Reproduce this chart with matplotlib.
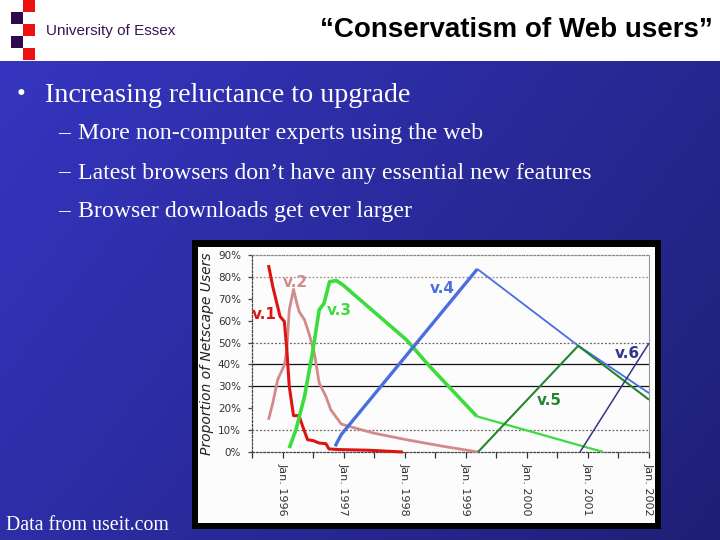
import numpy as np
import matplotlib
matplotlib.use("Agg")
import matplotlib.pyplot as plt
from matplotlib.patches import Rectangle

# ---------------- data ----------------
v1_x = [1995.77, 1995.84, 1995.90, 1995.96, 1996.03, 1996.07, 1996.11, 1996.18, 1996.27,
        1996.33, 1996.41, 1996.50, 1996.60, 1996.71, 1996.76, 1996.93, 1997.42, 1997.97]
v1_y = [85.4, 75.6, 68.7, 61.9, 59.6, 46.7, 30.0, 16.6, 16.6,
        11.7, 5.6, 5.2, 4.1, 3.8, 1.4, 1.1, 0.8, 0.0]

v2_x = [1995.77, 1995.84, 1995.92, 1996.03, 1996.07, 1996.11, 1996.18, 1996.22, 1996.27,
        1996.36, 1996.44, 1996.52, 1996.60, 1996.71, 1996.79, 1996.96, 1997.09, 1997.48,
        1998.03, 1998.63, 1999.20]
v2_y = [14.7, 22.3, 33.0, 39.8, 46.7, 64.9, 74.3, 69.5, 64.2,
        60.4, 53.5, 45.2, 31.5, 25.4, 19.3, 12.8, 11.7, 8.7,
        5.6, 2.6, 0.0]

v3a_x = [1996.11, 1996.22, 1996.36, 1996.49, 1996.60, 1996.68, 1996.77, 1996.88, 1996.99,
         1998.03, 1998.41, 1999.18]
v3a_y = [1.8, 10.2, 25.4, 45.2, 64.9, 68.0, 77.8, 78.3, 76.3,
         51.2, 39.1, 16.3]
v3b_x = [1999.18, 2001.25]
v3b_y = [16.3, 0.0]

v4a_x = [1996.86, 1996.96, 1999.19]
v4a_y = [2.6, 7.9, 83.6]
v4b_x = [1999.19, 2000.82, 2002.00]
v4b_y = [83.6, 49.0, 26.9]

v5_x = [1999.20, 2000.84, 2002.00]
v5_y = [0.0, 48.5, 23.9]

v6_x = [2000.87, 2002.00]
v6_y = [0.0, 49.7]

labels = ["v.1", "v.2", "v.3", "v.4", "v.5", "v.6"]
label_x = [1995.70, 1996.21, 1996.93, 1998.61, 2000.36, 2001.64]
label_y = [62.6, 77.6, 64.8, 74.9, 23.7, 45.2]
colors = ["#dd1414", "#d38a8a", "#3ddc3d", "#4a6ede", "#24862e", "#34348a"]

year_ticks = [1996, 1997, 1998, 1999, 2000, 2001, 2002]
year_labels = ["Jan. 1996", "Jan. 1997", "Jan. 1998", "Jan. 1999",
               "Jan. 2000", "Jan. 2001", "Jan. 2002"]
pct_ticks = [0, 10, 20, 30, 40, 50, 60, 70, 80, 90]

title = "\u201cConservatism of Web users\u201d"
bullet = "Increasing reluctance to upgrade"
subs = ["More non-computer experts using the web",
        "Latest browsers don\u2019t have any essential new features",
        "Browser downloads get ever larger"]

# ---------------- figure ----------------
W, H = 720, 540
fig = plt.figure(figsize=(7.2, 5.4), dpi=100)

def fx(px):
    return px / W

def fy(py):
    return 1 - py / H

# background gradient
bg = fig.add_axes([0, 0, 1, 1], zorder=-5)
bg.set_axis_off()
yy, xx = np.mgrid[0:1:200j, 0:1:200j]
t = np.clip(0.6 * xx + 0.35 * yy, 0, 1)
c0 = np.array([0x36, 0x36, 0xc4]) / 255
c1 = np.array([0x1e, 0x1e, 0x72]) / 255
img = c0[None, None, :] * (1 - t[..., None]) + c1[None, None, :] * t[..., None]
bg.imshow(img, extent=[0, 1, 0, 1], aspect="auto", origin="upper")
bg.set_xlim(0, 1)
bg.set_ylim(0, 1)

# header
fig.patches.append(Rectangle((0, fy(61)), 1, 61 / H, transform=fig.transFigure,
                             facecolor="white", edgecolor="none", zorder=1))
sq = 12
logo = [(23, 0, "#ee1111"), (11, 12, "#2e0a4c"), (23, 24, "#ee1111"),
        (11, 36, "#2e0a4c"), (23, 48, "#ee1111")]
for x0, y0, c in logo:
    fig.patches.append(Rectangle((fx(x0), fy(y0 + sq)), sq / W, sq / H,
                                 transform=fig.transFigure, facecolor=c,
                                 edgecolor="none", zorder=2))
fig.text(fx(46), fy(31), "University of Essex", fontsize=11, color="#3a1352",
         family="Liberation Sans", ha="left", va="center", zorder=3)
fig.text(fx(713), fy(30), title, fontsize=20, color="black", fontweight="bold",
         family="Liberation Sans", ha="right", va="center", zorder=3)

# bullets
fig.text(fx(17), fy(95), "\u2022", fontsize=18, color="white",
         family="Liberation Serif", ha="left", va="center")
fig.text(fx(45), fy(95), bullet, fontsize=20.2, color="white",
         family="Liberation Serif", ha="left", va="center")
for i, s in enumerate(subs):
    yc = 134 + 39 * i
    fig.text(fx(58), fy(yc), "\u2013", fontsize=17, color="white",
             family="Liberation Serif", ha="left", va="center")
    fig.text(fx(78), fy(yc), s, fontsize=17.2, color="white",
             family="Liberation Serif", ha="left", va="center")
fig.text(fx(6), fy(525), "Data from useit.com", fontsize=14.3, color="white",
         family="Liberation Serif", ha="left", va="center")

# chart frame
fig.patches.append(Rectangle((fx(192), fy(529)), (661 - 192) / W, (529 - 240) / H,
                             transform=fig.transFigure, facecolor="black",
                             edgecolor="none", zorder=1))
fig.patches.append(Rectangle((fx(198), fy(523)), (655 - 198) / W, (523 - 247) / H,
                             transform=fig.transFigure, facecolor="#fcfcfc",
                             edgecolor="none", zorder=1))

# chart axes
ax = fig.add_axes([fx(252), fy(452), (649 - 252) / W, (452 - 255) / H], zorder=5)
ax.set_facecolor("none")
ax.set_xlim(1995.5, 2002.0)
ax.set_ylim(0, 90)

# gridlines
ax.axhline(80, color="#a88c8c", lw=0.9, ls=(0, (1.5, 1.5)), zorder=1)
ax.axhline(50, color="#666666", lw=0.9, ls=(0, (1.5, 1.5)), zorder=1)
ax.axhline(40, color="#111111", lw=0.9, zorder=1)
ax.axhline(30, color="#111111", lw=0.9, zorder=1)
ax.axhline(10, color="#666666", lw=0.9, ls=(0, (1.5, 1.5)), zorder=1)

for s in ["top", "left", "bottom"]:
    ax.spines[s].set_linestyle((0, (1.5, 1.5)))
    ax.spines[s].set_linewidth(0.9)
ax.spines["top"].set_color("#888888")
ax.spines["left"].set_color("#444444")
ax.spines["bottom"].set_color("#444444")
ax.spines["right"].set_color("#999999")
ax.spines["right"].set_linewidth(0.8)

kw = dict(solid_capstyle="butt", solid_joinstyle="round", clip_on=False, zorder=3)
ax.plot(v2_x, v2_y, color=colors[1], lw=2.0, **kw)
ax.plot(v1_x, v1_y, color=colors[0], lw=2.2, **kw)
ax.plot(v3b_x, v3b_y, color=colors[2], lw=1.6, **kw)
ax.plot(v3a_x, v3a_y, color=colors[2], lw=2.6, **kw)
ax.plot(v4b_x, v4b_y, color=colors[3], lw=1.3, **kw)
ax.plot(v4a_x, v4a_y, color=colors[3], lw=2.4, **kw)
ax.plot(v5_x, v5_y, color=colors[4], lw=1.5, **kw)
ax.plot(v6_x, v6_y, color=colors[5], lw=1.1, **kw)

for lab, lx, ly, c in zip(labels, label_x, label_y, colors):
    ax.text(lx, ly, lab, color=c, fontsize=11, fontweight="bold",
            family="DejaVu Sans", ha="center", va="center", zorder=4)

ax.set_xticks(year_ticks)
ax.set_xticklabels(year_labels, rotation=270, fontsize=8, color="#333333",
                   family="DejaVu Sans")
ax.set_xticks(np.arange(1995.5, 2002.01, 0.5), minor=True)
ax.tick_params(axis="x", which="both", direction="out", length=4, width=0.9,
               color="#333333", pad=4)
ax.set_yticks(pct_ticks)
ax.set_yticklabels([f"{p}%" for p in pct_ticks], fontsize=7.5, color="#333333",
                   family="DejaVu Sans")
ax.tick_params(axis="y", which="both", direction="out", length=3, width=0.9,
               color="#444444", pad=5)
ax.set_ylabel("Proportion of Netscape Users", fontsize=10, style="italic",
              color="#222222", family="DejaVu Sans", labelpad=3)

fig.savefig("out.png", dpi=100)
